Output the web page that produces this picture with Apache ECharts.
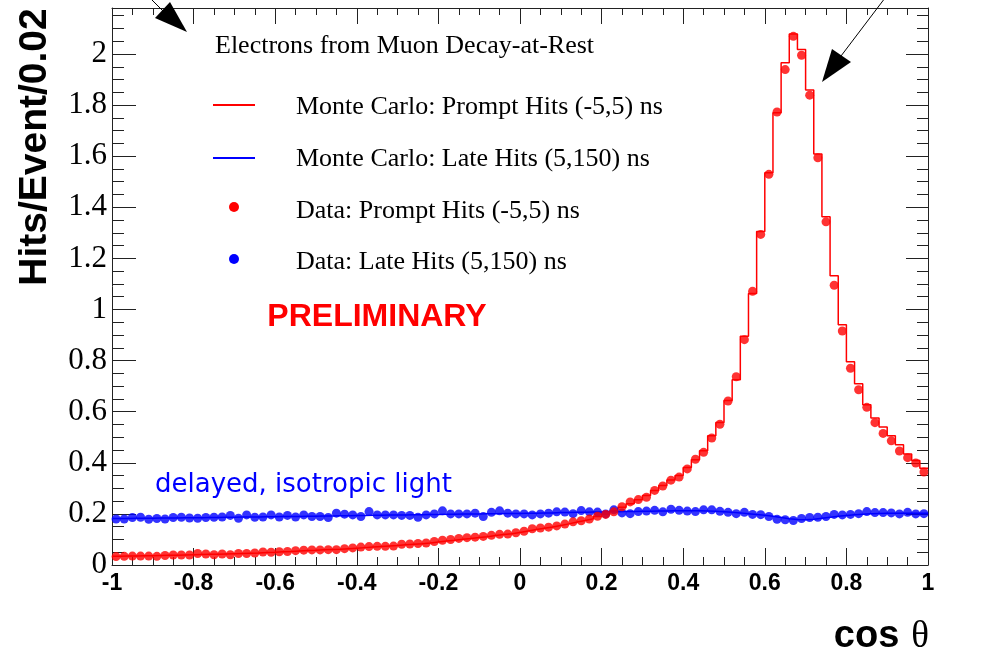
<!DOCTYPE html>
<html>
<head>
<meta charset="utf-8">
<script src="https://cdn.jsdelivr.net/npm/echarts@6/dist/echarts.min.js"></script>
<style>
  html, body { margin: 0; padding: 0; background: #ffffff; }
  #chart { width: 1008px; height: 654px; }
</style>
</head>
<body>
<div id="chart"></div>
<script>
// Histogram binning in cos(theta): 100 bins of width 0.02 from -1 to 1
const X_MIN = -1;
const X_MAX = 1;
const BIN_WIDTH = 0.02;
const Y_MAX = 2.18;

// Tick spacing
const X_MAJOR = 0.2, X_MINOR = 0.05;
const Y_MAJOR = 0.2, Y_MINOR = 0.05;

// Monte Carlo, prompt hits (-5,5) ns
const mcPrompt = [
  0.034, 0.035, 0.035, 0.036, 0.036, 0.037, 0.038, 0.038, 0.039, 0.040,
  0.041, 0.042, 0.042, 0.043, 0.044, 0.045, 0.046, 0.047, 0.049, 0.050,
  0.052, 0.053, 0.055, 0.057, 0.058, 0.060, 0.061, 0.062, 0.064, 0.066,
  0.068, 0.070, 0.072, 0.074, 0.076, 0.079, 0.081, 0.083, 0.086, 0.090,
  0.094, 0.097, 0.101, 0.104, 0.108, 0.111, 0.115, 0.119, 0.122, 0.127,
  0.133, 0.139, 0.144, 0.149, 0.155, 0.161, 0.168, 0.174, 0.181, 0.190,
  0.200, 0.212, 0.226, 0.240, 0.255, 0.272, 0.292, 0.311, 0.333, 0.350,
  0.382, 0.412, 0.447, 0.506, 0.558, 0.644, 0.725, 0.895, 1.063, 1.305,
  1.535, 1.770, 1.966, 2.078, 2.018, 1.859, 1.609, 1.363, 1.132, 0.940,
  0.795, 0.709, 0.627, 0.575, 0.540, 0.506, 0.471, 0.434, 0.409, 0.379
];

// Monte Carlo, late hits (5,150) ns
const mcLate = [
  0.182, 0.182, 0.183, 0.183, 0.183, 0.184, 0.184, 0.184, 0.185, 0.185,
  0.185, 0.186, 0.186, 0.187, 0.187, 0.188, 0.188, 0.188, 0.189, 0.189,
  0.190, 0.190, 0.190, 0.191, 0.191, 0.192, 0.192, 0.193, 0.193, 0.194,
  0.194, 0.195, 0.195, 0.196, 0.196, 0.196, 0.197, 0.197, 0.198, 0.198,
  0.199, 0.199, 0.200, 0.200, 0.200, 0.201, 0.201, 0.202, 0.202, 0.202,
  0.203, 0.203, 0.204, 0.204, 0.205, 0.205, 0.206, 0.206, 0.207, 0.207,
  0.208, 0.208, 0.209, 0.209, 0.210, 0.210, 0.211, 0.211, 0.212, 0.212,
  0.212, 0.212, 0.211, 0.210, 0.208, 0.206, 0.204, 0.201, 0.198, 0.195,
  0.191, 0.186, 0.181, 0.178, 0.177, 0.179, 0.183, 0.187, 0.191, 0.194,
  0.197, 0.199, 0.201, 0.202, 0.203, 0.203, 0.203, 0.203, 0.203, 0.203
];

// Data, prompt hits (-5,5) ns
const dataPrompt = [
  0.033, 0.034, 0.035, 0.035, 0.035, 0.034, 0.037, 0.039, 0.039, 0.039,
  0.045, 0.043, 0.040, 0.043, 0.040, 0.045, 0.045, 0.047, 0.051, 0.050,
  0.052, 0.053, 0.056, 0.058, 0.059, 0.059, 0.060, 0.060, 0.064, 0.067,
  0.070, 0.072, 0.073, 0.073, 0.074, 0.081, 0.082, 0.084, 0.086, 0.092,
  0.097, 0.100, 0.104, 0.107, 0.109, 0.112, 0.116, 0.120, 0.121, 0.126,
  0.132, 0.142, 0.145, 0.148, 0.153, 0.160, 0.169, 0.173, 0.180, 0.191,
  0.198, 0.208, 0.228, 0.247, 0.256, 0.265, 0.292, 0.309, 0.332, 0.344,
  0.376, 0.414, 0.441, 0.497, 0.551, 0.642, 0.737, 0.882, 1.071, 1.294,
  1.529, 1.773, 1.939, 2.069, 1.995, 1.839, 1.594, 1.343, 1.095, 0.916,
  0.770, 0.686, 0.617, 0.557, 0.515, 0.486, 0.446, 0.420, 0.399, 0.364
];

// Data, late hits (5,150) ns
const dataLate = [
  0.180, 0.180, 0.186, 0.187, 0.179, 0.182, 0.180, 0.186, 0.187, 0.184,
  0.183, 0.186, 0.187, 0.188, 0.194, 0.183, 0.196, 0.187, 0.188, 0.196,
  0.188, 0.194, 0.188, 0.196, 0.190, 0.190, 0.186, 0.203, 0.199, 0.196,
  0.190, 0.209, 0.196, 0.196, 0.196, 0.194, 0.194, 0.187, 0.196, 0.200,
  0.212, 0.200, 0.200, 0.200, 0.203, 0.190, 0.206, 0.212, 0.203, 0.200,
  0.200, 0.196, 0.200, 0.203, 0.208, 0.207, 0.201, 0.213, 0.208, 0.207,
  0.200, 0.216, 0.204, 0.201, 0.209, 0.211, 0.214, 0.208, 0.218, 0.214,
  0.211, 0.209, 0.216, 0.216, 0.210, 0.206, 0.201, 0.206, 0.198, 0.197,
  0.190, 0.179, 0.177, 0.174, 0.182, 0.186, 0.187, 0.190, 0.198, 0.196,
  0.198, 0.201, 0.209, 0.205, 0.205, 0.204, 0.200, 0.206, 0.200, 0.201
];

// Text
const legendTitle = 'Electrons from Muon Decay-at-Rest';
const legendLabels = [
  'Monte Carlo: Prompt Hits (-5,5) ns',
  'Monte Carlo: Late Hits (5,150) ns',
  'Data: Prompt Hits (-5,5) ns',
  'Data: Late Hits (5,150) ns'
];
const yTitle = 'Hits/Event/0.02';
const xTitleMain = 'cos';
const xTitleSymbol = 'θ';
const stampText = 'PRELIMINARY';
const noteText = 'delayed, isotropic light';

const RED = '#ff0000';
const BLUE = '#0000ff';

// Helpers to turn bin contents into chart data
function binCenter(i) { return X_MIN + (i + 0.5) * BIN_WIDTH; }
function stepPoints(values) {
  const pts = [];
  values.forEach((v, i) => {
    const lo = X_MIN + i * BIN_WIDTH;
    pts.push([lo, v], [lo + BIN_WIDTH, v]);
  });
  return pts;
}
function centerPoints(values) {
  return values.map((v, i) => [binCenter(i), v]);
}

function onMultiple(v, step) {
  const k = v / step;
  return Math.abs(k - Math.round(k)) < 1e-6;
}
function tickText(v, step) {
  if (!onMultiple(v, step)) return '';
  const r = Math.round(v * 10) / 10;
  return r === 0 ? '0' : String(r);
}

const AXIS_COLOR = '#222';

function xAxisDef(position, interval, tickLen, showLabels, showLine) {
  return {
    type: 'value', position, min: X_MIN, max: X_MAX, interval,
    axisLine: { show: showLine, onZero: false, lineStyle: { color: AXIS_COLOR, width: 1 } },
    axisTick: { show: true, inside: true, length: tickLen, lineStyle: { color: AXIS_COLOR, width: 1 } },
    axisLabel: showLabels ? {
      show: true, margin: 7, color: '#000',
      fontFamily: 'Liberation Sans', fontWeight: 'bold', fontSize: 23,
      formatter: v => tickText(v, X_MAJOR)
    } : { show: false },
    splitLine: { show: false }
  };
}
function yAxisDef(position, interval, tickLen, showLabels, showLine) {
  return {
    type: 'value', position, min: 0, max: Y_MAX, interval,
    axisLine: { show: showLine, onZero: false, lineStyle: { color: AXIS_COLOR, width: 1 } },
    axisTick: { show: true, inside: true, length: tickLen, lineStyle: { color: AXIS_COLOR, width: 1 } },
    axisLabel: showLabels ? {
      show: true, margin: 5, color: '#000',
      fontFamily: 'Liberation Serif', fontSize: 31,
      formatter: v => tickText(v, Y_MAJOR)
    } : { show: false },
    splitLine: { show: false }
  };
}

const chart = echarts.init(document.getElementById('chart'), null, { renderer: 'canvas' });

const serif = '"Liberation Serif", "Times New Roman", serif';
const legendRows = [107, 159, 211, 262];

chart.setOption({
  animation: false,
  backgroundColor: '#ffffff',
  grid: { left: 112, right: 80, top: 8, bottom: 89, containLabel: false, outerBoundsMode: 'none' },
  xAxis: [
    xAxisDef('bottom', X_MAJOR, 17, true, true),
    xAxisDef('bottom', X_MINOR, 8, false, false),
    xAxisDef('top', X_MAJOR, 16, false, true),
    xAxisDef('top', X_MINOR, 7, false, false)
  ],
  yAxis: [
    yAxisDef('left', Y_MAJOR, 24, true, true),
    yAxisDef('left', Y_MINOR, 12, false, false),
    yAxisDef('right', Y_MAJOR, 22, false, true),
    yAxisDef('right', Y_MINOR, 11, false, false)
  ],
  series: [
    {
      name: legendLabels[1], type: 'line', data: stepPoints(mcLate),
      showSymbol: false, silent: true, z: 2,
      lineStyle: { color: BLUE, width: 1.5 }
    },
    {
      name: legendLabels[0], type: 'line', data: stepPoints(mcPrompt),
      showSymbol: false, silent: true, z: 3,
      lineStyle: { color: RED, width: 1.5 }
    },
    {
      name: legendLabels[3], type: 'scatter', data: centerPoints(dataLate),
      symbol: 'circle', symbolSize: 9, z: 4,
      itemStyle: { color: BLUE }
    },
    {
      name: legendLabels[2], type: 'scatter', data: centerPoints(dataPrompt),
      symbol: 'circle', symbolSize: 9, z: 5,
      itemStyle: { color: RED }
    }
  ],
  graphic: [
    // axis titles
    {
      type: 'text', x: 35, y: 147, rotation: Math.PI / 2, z: 10,
      style: {
        text: yTitle, font: 'bold 39px "Liberation Sans", Arial, sans-serif', fill: '#000',
        align: 'center', verticalAlign: 'middle', textAlign: 'center', textVerticalAlign: 'middle'
      }
    },
    {
      type: 'text', x: 929, y: 637, z: 10,
      style: {
        text: '{a|' + xTitleMain + '}{b|' + xTitleSymbol + '}',
        rich: {
          a: { font: 'bold 38px "Liberation Sans", Arial, sans-serif', fill: '#000' },
          b: { font: '37px ' + serif, fill: '#000', padding: [0, 0, 0, 12] }
        },
        fill: '#000', align: 'right', verticalAlign: 'middle', textAlign: 'right', textVerticalAlign: 'middle'
      }
    },
    // legend block
    {
      type: 'text', x: 215, y: 46, z: 10,
      style: { text: legendTitle, font: '26px ' + serif, fill: '#000', align: 'left', verticalAlign: 'middle', textAlign: 'left', textVerticalAlign: 'middle' }
    },
    { type: 'line', z: 10, shape: { x1: 213, y1: 105, x2: 255, y2: 105 }, style: { stroke: RED, lineWidth: 2 } },
    { type: 'line', z: 10, shape: { x1: 213, y1: 158, x2: 255, y2: 158 }, style: { stroke: BLUE, lineWidth: 2 } },
    { type: 'circle', z: 10, shape: { cx: 234, cy: 207, r: 5 }, style: { fill: RED } },
    { type: 'circle', z: 10, shape: { cx: 234, cy: 259, r: 5 }, style: { fill: BLUE } },
    ...legendLabels.map((t, i) => ({
      type: 'text', x: 296, y: legendRows[i], z: 10,
      style: { text: t, font: '26px ' + serif, fill: '#000', align: 'left', verticalAlign: 'middle', textAlign: 'left', textVerticalAlign: 'middle' }
    })),
    // annotations
    {
      type: 'text', x: 377, y: 317, z: 10,
      style: { text: stampText, font: 'bold 32px "Liberation Sans", Arial, sans-serif', fill: RED, align: 'center', verticalAlign: 'middle', textAlign: 'center', textVerticalAlign: 'middle' }
    },
    {
      type: 'text', x: 155, y: 485, z: 10,
      style: { text: noteText, font: '26px "DejaVu Sans", sans-serif', fill: BLUE, align: 'left', verticalAlign: 'middle', textAlign: 'left', textVerticalAlign: 'middle' }
    },
    // arrows pointing at the peak region
    { type: 'line', z: 10, shape: { x1: 150, y1: -2, x2: 166, y2: 14 }, style: { stroke: '#000', lineWidth: 1 } },
    { type: 'polygon', z: 10, shape: { points: [[187, 32], [155, 18], [170, 2]] }, style: { fill: '#000' } },
    { type: 'line', z: 10, shape: { x1: 885, y1: -2, x2: 841, y2: 56 }, style: { stroke: '#000', lineWidth: 1 } },
    { type: 'polygon', z: 10, shape: { points: [[822, 82], [832, 49], [851, 62]] }, style: { fill: '#000' } }
  ]
});
</script>
</body>
</html>
